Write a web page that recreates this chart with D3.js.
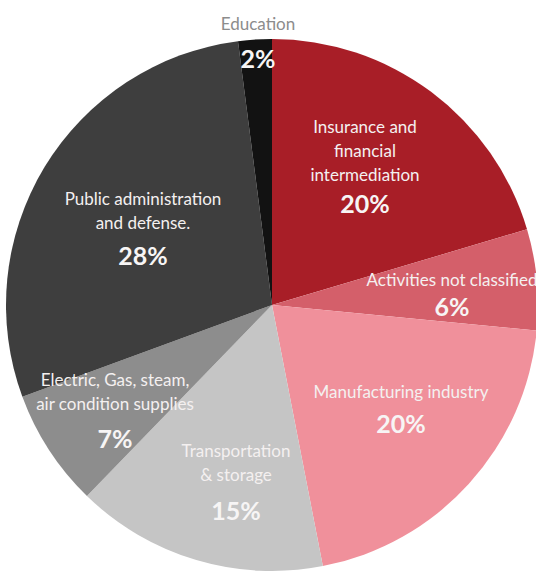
<!DOCTYPE html>
<html>
<head>
<meta charset="utf-8">
<script src="https://cdn.jsdelivr.net/npm/d3@7/dist/d3.min.js"></script>
<style>
  html, body { margin: 0; padding: 0; background: #ffffff; }
  svg { display: block; }
  text { font-family: Lato, "Open Sans", sans-serif; }
</style>
</head>
<body>
<svg id="chart" width="536" height="573"></svg>
<script>
// Sectors, clockwise from 12 o'clock
const sectors = [
  "Insurance and financial intermediation",
  "Activities not classified",
  "Manufacturing industry",
  "Transportation & storage",
  "Electric, Gas, steam, air condition supplies",
  "Public administration and defense.",
  "Education"
];
const shares = [20, 6, 20, 15, 7, 28, 2];
const labelLines = [
  ["Insurance and", "financial", "intermediation"],
  ["Activities not classified"],
  ["Manufacturing industry"],
  ["Transportation", "& storage"],
  ["Electric, Gas, steam,", "air condition supplies"],
  ["Public administration", "and defense."],
  ["Education"]
];
const colors = ["#a81e27", "#d45f6a", "#f0909b", "#c5c5c5", "#8d8d8d", "#3e3e3e", "#121212"];

// label anchors: centre x, first-line baseline, percentage baseline
const labelLayout = [
  { x: 365, y: 133, py: 213 },
  { x: 452, y: 286, py: 316 },
  { x: 401, y: 398, py: 433 },
  { x: 236, y: 457, py: 520 },
  { x: 115, y: 386, py: 448 },
  { x: 143, y: 205, py: 265 },
  { x: 258, y: 30,  py: 68 }
];

const cx = 272, cy = 305, radius = 266;
const svg = d3.select("#chart");
const g = svg.append("g").attr("transform", `translate(${cx},${cy})`);

const data = sectors.map((name, i) => ({ name, value: shares[i], i }));
const pie = d3.pie().sort(null).value(d => d.value).startAngle(0).endAngle(2 * Math.PI);
const arc = d3.arc().innerRadius(0).outerRadius(radius);

g.selectAll("path.slice")
  .data(pie(data))
  .join("path")
  .attr("class", "slice")
  .attr("d", arc)
  .attr("fill", d => colors[d.data.i]);

const labels = svg.append("g");
data.forEach((d, i) => {
  const L = labelLayout[i];
  const isEdu = d.name === "Education";
  labelLines[i].forEach((line, k) => {
    labels.append("text")
      .attr("x", L.x)
      .attr("y", L.y + k * 24)
      .attr("text-anchor", "middle")
      .attr("font-size", 17)
      .attr("fill", isEdu ? "#8c8c8c" : "#f4f0f0")
      .text(line);
  });
  labels.append("text")
    .attr("x", L.x)
    .attr("y", L.py)
    .attr("text-anchor", "middle")
    .attr("font-size", 25)
    .attr("font-weight", "bold")
    .attr("fill", "#f7f5f5")
    .text(d.value + "%");
});
</script>
</body>
</html>
